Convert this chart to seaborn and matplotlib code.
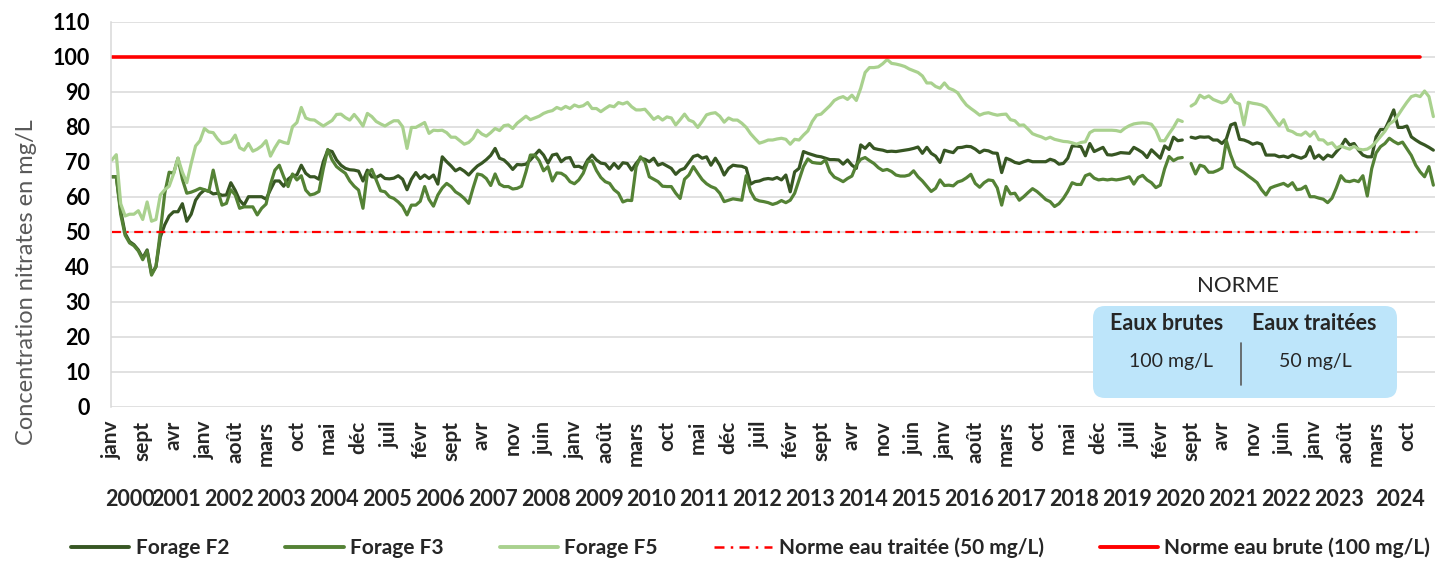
import numpy as np
import pandas as pd
import seaborn as sns
import matplotlib.pyplot as plt
from matplotlib.lines import Line2D
from matplotlib.patches import FancyBboxPatch
from matplotlib.transforms import IdentityTransform

nan = np.nan

# Monthly nitrate readings (mg/L), one value per category on the axis
forage_f2 = [
    65.7, 65.7, 56, 49.5, 47.2, 46.3, 44.8, 42.5, 44.8, 38,
    40, 48.5, 52, 54.5, 55.7, 55.7, 58, 53, 55, 59,
    60.8, 61.9, 61.6, 60.8, 61, 60.4, 60.5, 64, 61.8, 59,
    57.6, 60, 60, 60, 60, 59.3, 62, 64.5, 64.5, 63,
    65, 66, 66.2, 69, 66.7, 65.7, 65.7, 65, 70, 73.3,
    72.9, 70.5, 69, 68.1, 67.7, 67.6, 67.3, 64.5, 67.6, 65.7,
    65.5, 66.2, 65.2, 65.1, 65.3, 66, 65, 62, 65, 66.9,
    65.2, 66.2, 65.2, 66.2, 63.6, 71.4, 70, 68.8, 67.4, 68.1,
    67.3, 66.2, 67.6, 68.8, 69.6, 70.6, 71.8, 73.8, 71, 70.5,
    69.3, 67.8, 69.2, 69.1, 69.3, 70.5, 71.9, 73.3, 71.9, 69.6,
    71.9, 72.2, 70, 71, 71.2, 68.6, 68.7, 68.1, 70.5, 71.9,
    70.5, 69.6, 69.4, 67.9, 69.5, 68.1, 69.7, 69.5, 67.6, 69.5,
    71, 70.7, 70, 71, 69, 69.5, 68.8, 68.1, 66.4, 67.6,
    68.1, 69.8, 71.5, 71.9, 71, 71.4, 69, 71, 69, 66.2,
    68.1, 69, 68.8, 68.7, 68.2, 63.6, 64.3, 64.5, 65, 65.2,
    65, 65.5, 64.8, 66.2, 61.4, 67.1, 68.1, 72.9, 72.4, 72,
    71.6, 71.4, 71, 70.6, 70.6, 70.5, 69.3, 70.5, 69, 68.1,
    74.8, 73.8, 75.2, 73.8, 73.5, 73.3, 72.9, 73, 72.9, 73.1,
    73.3, 73.5, 73.8, 74.2, 72.4, 74.1, 72.4, 71.6, 69.8, 73.3,
    72.9, 72.6, 74, 74.1, 74.4, 74.3, 73.6, 72.6, 73.3, 73.1,
    72.5, 72.4, 66.9, 71, 70.5, 69.8, 69.5, 70, 70.4, 70,
    70, 70, 70, 70.7, 70.3, 69.3, 69.5, 71, 74.5, 74.5,
    74.3, 71.7, 75.2, 72.9, 73.5, 74.1, 72, 71.9, 72.2, 72.6,
    72.5, 72.4, 74.1, 73.4, 72.6, 71.2, 73.4, 72.2, 71, 74.5,
    73.5, 77, 76, 76.2, nan, 77, 76.7, 77.1, 77, 77.1,
    76.2, 76.2, 75.2, 76.5, 80.5, 81, 76.4, 76.2, 75.7, 75,
    75.4, 75, 71.9, 71.9, 71.9, 71.4, 71.6, 71.2, 71.9, 71.4,
    71, 71.6, 74.3, 71, 71.9, 70.7, 71.9, 71.4, 72.9, 74.3,
    76.4, 74.8, 75.2, 73.3, 71.9, 71.4, 71.4, 77.1, 79.2, 79.2,
    81.9, 84.8, 79.8, 79.8, 80.2, 77.1, 76.2, 75.4, 74.8, 74.1,
    73.3,
]

forage_f3 = [
    65.7, 65.7, 55, 49, 46.8, 46, 44.5, 42, 44.5, 37.6,
    40, 50, 61, 67, 66.7, 71, 65, 61, 61.3, 61.8,
    62.4, 62, 61.5, 67.6, 61.9, 57.6, 58.1, 62, 60.5, 56.7,
    57.1, 57.1, 57.1, 54.8, 56.7, 57.9, 63.5, 67.6, 69, 65.7,
    62.9, 66.5, 64.8, 66, 61.9, 60.5, 60.8, 61.5, 68, 73.5,
    70.5, 68.6, 67.6, 66.7, 64.5, 63, 61.9, 56.7, 66.7, 67.8,
    64.8, 61.7, 61.4, 60, 59.5, 58.5, 57.2, 54.8, 57.6, 57.6,
    58.7, 62.9, 59.2, 57.3, 60.5, 62.5, 63.8, 62.9, 61.4, 60.6,
    59.5, 58.1, 62.5, 66.5, 66.2, 65.2, 63.2, 66.5, 63.6, 62.9,
    62.9, 62.2, 62.4, 63, 67.1, 71.9, 71.9, 70.3, 67.4, 68.6,
    64.5, 66.8, 66.7, 65.9, 64.3, 63.7, 64.8, 66.7, 70, 70.3,
    67.5, 65.5, 64.3, 63.8, 62, 61, 58.5, 59, 58.9, 68.5,
    71.4, 70, 65.7, 65, 64.3, 63, 62.9, 62.9, 61, 59.5,
    65, 66.2, 68.6, 66.7, 64.9, 63.7, 62.9, 62.4, 61, 58.6,
    59, 59.4, 59.2, 59, 66, 61.5, 59.3, 58.8, 58.6, 58.3,
    57.8, 58.2, 58.9, 58.3, 59, 61, 64.8, 68.6, 70.8, 69.8,
    69.6, 69.5, 70.5, 67.1, 65.6, 65, 64.3, 65.2, 65.9, 69,
    70.7, 71.2, 70.3, 69.5, 68.3, 67.5, 67.8, 67.2, 66.2, 65.9,
    65.9, 66.2, 67.4, 65.7, 64.5, 63, 61.5, 62.4, 64.8, 63.2,
    63.3, 63.1, 64.2, 64.6, 65.4, 66.4, 63.8, 62.7, 64, 64.8,
    64.6, 62.5, 57.6, 62.9, 60.8, 61, 59, 60, 61.2, 62.3,
    61.5, 60.4, 59.2, 58.6, 57.2, 58, 59.5, 61.5, 64, 63.5,
    63.5, 66, 66.5, 65.3, 64.8, 65, 64.8, 65, 64.8, 65,
    65.3, 65.7, 63.6, 65.5, 66.1, 64.8, 64, 62.6, 63.3, 68,
    71.5, 70.3, 71, 71.2, nan, 69.5, 66.5, 69, 68.6, 67,
    67, 67.5, 68.2, 76, 71.9, 68.6, 67.7, 66.9, 65.9, 65,
    64, 62, 60.5, 62.5, 63, 63.4, 63.8, 63, 64, 62,
    62.2, 63, 60, 60, 59.6, 59.3, 58.3, 59.6, 62.6, 66,
    64.5, 64.3, 64.7, 64.3, 66, 60.2, 68, 72.5, 74.3, 75.2,
    76.7, 75.8, 75.1, 75.6, 73.7, 71.8, 69, 67.1, 65.7, 68.6,
    63.3,
]

forage_f5 = [
    70.5, 72, 58, 54.5, 55, 55, 56, 53.5, 58.5, 53,
    53.5, 60.5, 62, 63, 66.5, 71, 67, 64, 69.5, 74.5,
    76, 79.5, 78.5, 78.3, 76.5, 75.2, 75.4, 75.8, 77.6, 74,
    73.3, 75.2, 73, 73.6, 74.5, 76, 71.6, 74, 76, 75.5,
    75.2, 80, 81.2, 85.5, 82.5, 82, 81.9, 81, 80.2, 81,
    81.8, 83.5, 83.6, 82.6, 81.9, 83.5, 82, 80.2, 83.8, 82.9,
    81.5, 80.8, 80.2, 81, 81.7, 81.7, 80, 73.8, 79.8, 79.8,
    80.5, 81.2, 78.1, 79, 78.9, 79, 78.3, 77, 77, 76,
    75, 75.5, 76.7, 79, 77.9, 77.3, 78.3, 79.5, 78.9, 80.3,
    80.5, 79.5, 81, 82, 83, 82, 82.5, 83, 83.8, 84.3,
    84.6, 85.5, 85, 85.8, 85.2, 86.2, 85.7, 86, 86.9, 85.2,
    85.2, 84.3, 85.2, 86, 85.7, 86.9, 86.5, 87, 85.7, 84.8,
    84.8, 85, 83.6, 82.1, 82.9, 81.9, 82.8, 82.5, 80.5, 82,
    83.6, 81.9, 81.4, 79.8, 81.5, 83.4, 83.8, 84, 83, 81.3,
    82.5, 81.9, 81.9, 81, 79.8, 78, 76.6, 75.3, 75.7, 76.2,
    76.2, 76.5, 76.7, 76.4, 75, 76.4, 76.2, 77.6, 78.8, 81.5,
    83.3, 83.6, 84.8, 86, 87.5, 88.2, 88.6, 87.8, 89, 87.5,
    91, 95.5, 96.9, 96.9, 97.1, 98, 99.2, 98.1, 97.9, 97.6,
    97.2, 96.5, 96, 95.5, 94.5, 92.5, 92.5, 91.5, 91, 92.5,
    91, 90.5, 89.7, 87.8, 86.2, 85.2, 84.3, 83.3, 83.8, 84,
    83.6, 83.3, 83.5, 83.6, 82, 81.7, 80.4, 80.5, 79.3, 78,
    77.5, 77.1, 76.5, 77, 76.4, 76.1, 75.8, 75.7, 75.4, 75,
    75.5, 75.7, 78.3, 79, 79, 79, 79, 79, 78.9, 78.6,
    79.6, 80.3, 80.8, 81, 81.1, 81, 80.7, 79, 76, 76,
    78, 79.8, 82, 81.5, nan, 85.9, 86.7, 89, 88.2, 88.8,
    87.8, 87.3, 86.8, 87.3, 89.2, 87, 86.5, 80.5, 87, 86.7,
    86.5, 86.2, 85.5, 83.8, 82, 80.3, 82, 79, 78.6, 77.8,
    77.6, 78.5, 77.3, 78.6, 76.3, 76.2, 75, 75.4, 73.9, 74.5,
    74, 73.6, 74.4, 73.6, 73.4, 73.6, 74.4, 75.7, 77.2, 78.7,
    80.8, 81.6, 83.3, 85.2, 87, 88.6, 89, 88.6, 90.2, 88.6,
    82.9,
]

norme_traitee = [50] * 298
norme_brute = [100] * 298

# axis labels: one month shown every 7 categories, years grouped underneath
month_labels = (["janv", "sept", "avr"]
                + ["janv", "août", "mars", "oct", "mai", "déc",
                   "juil", "févr", "sept", "avr", "nov", "juin"] * 3
                + ["janv", "août", "mars", "oct"])
years = list(range(2000, 2025))
year_counts = [9, 12] + [12] * 22 + [16]

c_f2 = "#375623"
c_f3 = "#548235"
c_f5 = "#A9D18E"
red = "#FF0000"
W, H = 1438, 561


def px(x, y):
    return x / W, 1 - y / H


sns.set_theme(style="white")
plt.rcParams["font.family"] = ["Lato", "DejaVu Sans"]

fig = plt.figure(figsize=(W / 100, H / 100), dpi=100)
ax = fig.add_axes([0.0772, 0.275, 0.9208, 0.6863])

df = pd.DataFrame({"idx": np.arange(len(forage_f2)),
                   "F2": forage_f2, "F3": forage_f3, "F5": forage_f5})
df["seg"] = df["F2"].isna().cumsum()
long = df.melt(id_vars=["idx", "seg"], var_name="forage",
               value_name="val").dropna()

for name, col in [("F2", c_f2), ("F3", c_f3), ("F5", c_f5)]:
    sns.lineplot(data=long[long["forage"] == name], x="idx", y="val",
                 units="seg", estimator=None, color=col, lw=2.3,
                 ax=ax, legend=False)

norm_idx = np.arange(len(norme_brute))
sns.lineplot(x=norm_idx, y=norme_traitee, color=red, lw=1.6, ax=ax)
ax.lines[-1].set_dashes([4, 2.5, 1, 2.5])
sns.lineplot(x=norm_idx, y=norme_brute, color=red, lw=2.6, ax=ax)

ax.set_xlim(-0.2, 300.4)
ax.set_ylim(0, 110)
ax.set_yticks(range(0, 111, 10))
ax.yaxis.grid(True, color="#D9D9D9", lw=1.1)
ax.set_axisbelow(True)
for s in ["top", "right", "bottom"]:
    ax.spines[s].set_visible(False)
ax.spines["left"].set_color("#D9D9D9")
ax.spines["left"].set_linewidth(1.1)
ax.tick_params(axis="y", length=5, color="#D9D9D9", width=1.1, pad=10,
               labelsize=15.5, labelcolor="black")
for t in ax.get_yticklabels():
    t.set_fontweight("bold")

ax.set_xticks(range(0, 7 * len(month_labels), 7))
ax.set_xticklabels(month_labels, rotation=90, fontsize=15,
                   fontweight="bold", va="top", ha="center")
ax.tick_params(axis="x", length=0, pad=10)
ax.set_xlabel("")
ax.set_ylabel("")

start = 0
for yr, n in zip(years, year_counts):
    ax.text(start + (n - 1) / 2, -0.24, str(yr), transform=ax.get_xaxis_transform(),
            ha="center", va="center", fontsize=15.5, fontweight="bold")
    start += n

fig.text(*px(27, 282), "Concentration nitrates en mg/L", rotation=90,
         ha="center", va="center", fontsize=17, color="#595959")

# standards box
box = FancyBboxPatch((1093, H - 398), 304, 92,
                     boxstyle="round,pad=0,rounding_size=12",
                     transform=IdentityTransform(), facecolor="#BDE5FA",
                     edgecolor="none")
fig.add_artist(box)
fig.text(*px(1238, 286), "NORME", ha="center", va="center", fontsize=16)
fig.text(*px(1167, 324), "Eaux brutes", ha="center", va="center",
         fontsize=15.5, fontweight="bold")
fig.text(*px(1314, 324), "Eaux traitées", ha="center", va="center",
         fontsize=15.5, fontweight="bold")
fig.text(*px(1171, 361), "100 mg/L", ha="center", va="center", fontsize=14)
fig.text(*px(1315, 361), "50 mg/L", ha="center", va="center", fontsize=14)
fig.add_artist(Line2D([1241, 1241], [H - 343, H - 385], color="#595959",
                      lw=1.2, transform=IdentityTransform()))

handles = [
    Line2D([], [], color=c_f2, lw=2.8),
    Line2D([], [], color=c_f3, lw=2.8),
    Line2D([], [], color=c_f5, lw=2.8),
    Line2D([], [], color=red, lw=1.8, dashes=[4, 2.5, 1, 2.5]),
    Line2D([], [], color=red, lw=2.8),
]
labels = ["Forage F2", "Forage F3", "Forage F5",
          "Norme eau traitée (50 mg/L)", "Norme eau brute (100 mg/L)"]
fig.legend(handles, labels, loc="center", bbox_to_anchor=(0.522, 0.023),
           ncol=5, frameon=False, handlelength=2.8, handletextpad=0.3,
           columnspacing=2.7, prop={"weight": "bold", "size": 15})

fig.savefig("out.png", dpi=100)
